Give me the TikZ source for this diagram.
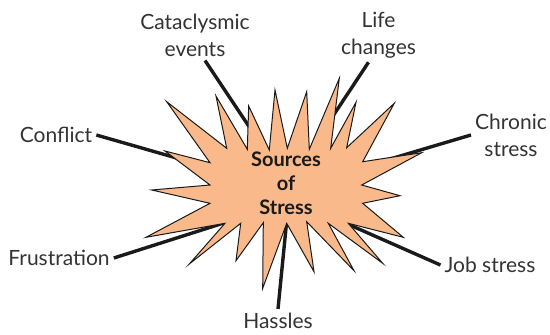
\documentclass[tikz,border=0pt]{standalone}
\usepackage{fontspec}
\setmainfont{Lato}
\usetikzlibrary{calc}
\definecolor{stPeach}{HTML}{F9B98A}
\definecolor{stInk}{HTML}{1A1A1A}
\definecolor{stText}{HTML}{333333}
\tikzset{
  stlabel/.style={
    align=center,
    text=stText,
    inner sep=4pt,
    font=\fontsize{21}{27}\selectfont
  },
  stlink/.style={draw=stInk, line width=3.4pt},
  stburst/.style={draw=stInk, fill=stPeach, line width=1pt, miter limit=25}
}

\begin{document}
\begin{tikzpicture}[x=1pt, y=-1pt]
  \useasboundingbox (0,0) rectangle (550,335);

  % labels round the burst
  \node[stlabel] (cataclysm) at (195,35) {Cataclysmic\\events};
  \node[stlabel] (life) at (378.5,35) {Life\\changes};
  \node[stlabel] (conflict) at (56,135) {Conflict};
  \node[stlabel] (chronic) at (511,135) {Chronic\\stress};
  \node[stlabel] (frustration) at (59,258) {Frustration};
  \node[stlabel] (job) at (490,265) {Job stress};
  \node[stlabel] (hassles) at (278,321) {Hassles};

  % inner ends, hidden by the burst
  \coordinate (cataclysm-in) at (258,140);
  \coordinate (life-in) at (325,128);
  \coordinate (conflict-in) at (215,169);
  \coordinate (chronic-in) at (380,162);
  \coordinate (frustration-in) at (230,221);
  \coordinate (job-in) at (343,222);
  \coordinate (hassles-in) at (287,218);

  \draw[stlink] ([xshift=10pt]cataclysm.south) -- (cataclysm-in);
  \draw[stlink] ([xshift=-10pt]life.south) -- (life-in);
  \draw[stlink] (conflict.east) -- (conflict-in);
  \draw[stlink] (chronic.west) -- (chronic-in);
  \draw[stlink] (frustration.east) -- (frustration-in);
  \draw[stlink] (job.west) -- (job-in);
  \draw[stlink] (hassles.north) -- (hassles-in);

  % the burst
  \draw[stburst] (166.7,101.7) -- (226.7,148.3) -- (216,96) -- (247.3,149.3)
    -- (248.7,106) -- (269.3,150) -- (275,90) -- (287.3,148.3)
    -- (306.7,91.7) -- (309.3,149.3) -- (339.3,78.3) -- (330.7,148.3)
    -- (356,102.3) -- (346.7,147.7) -- (394.3,103.3) -- (362.7,161.7)
    -- (421.7,152.7) -- (361.7,185) -- (400,195.7) -- (362.7,203.3)
    -- (403.3,237.3) -- (348.3,223.3) -- (382.7,263.3) -- (328.3,223.3)
    -- (354,270.7) -- (306.7,221.7) -- (314,271.7) -- (286.7,223.3)
    -- (262.7,288.3) -- (263.3,222.7) -- (236,260.7) -- (240.7,223.3)
    -- (189.3,264) -- (225,223.3) -- (146,237.3) -- (210,203.3)
    -- (151.7,190) -- (210,185) -- (165,151) -- (210,162.7) -- cycle;

  \node[font=\fontsize{20}{24}\selectfont\bfseries, text=stInk, align=center] (core) at (286,183) {Sources\\of\\Stress};
\end{tikzpicture}
\end{document}
